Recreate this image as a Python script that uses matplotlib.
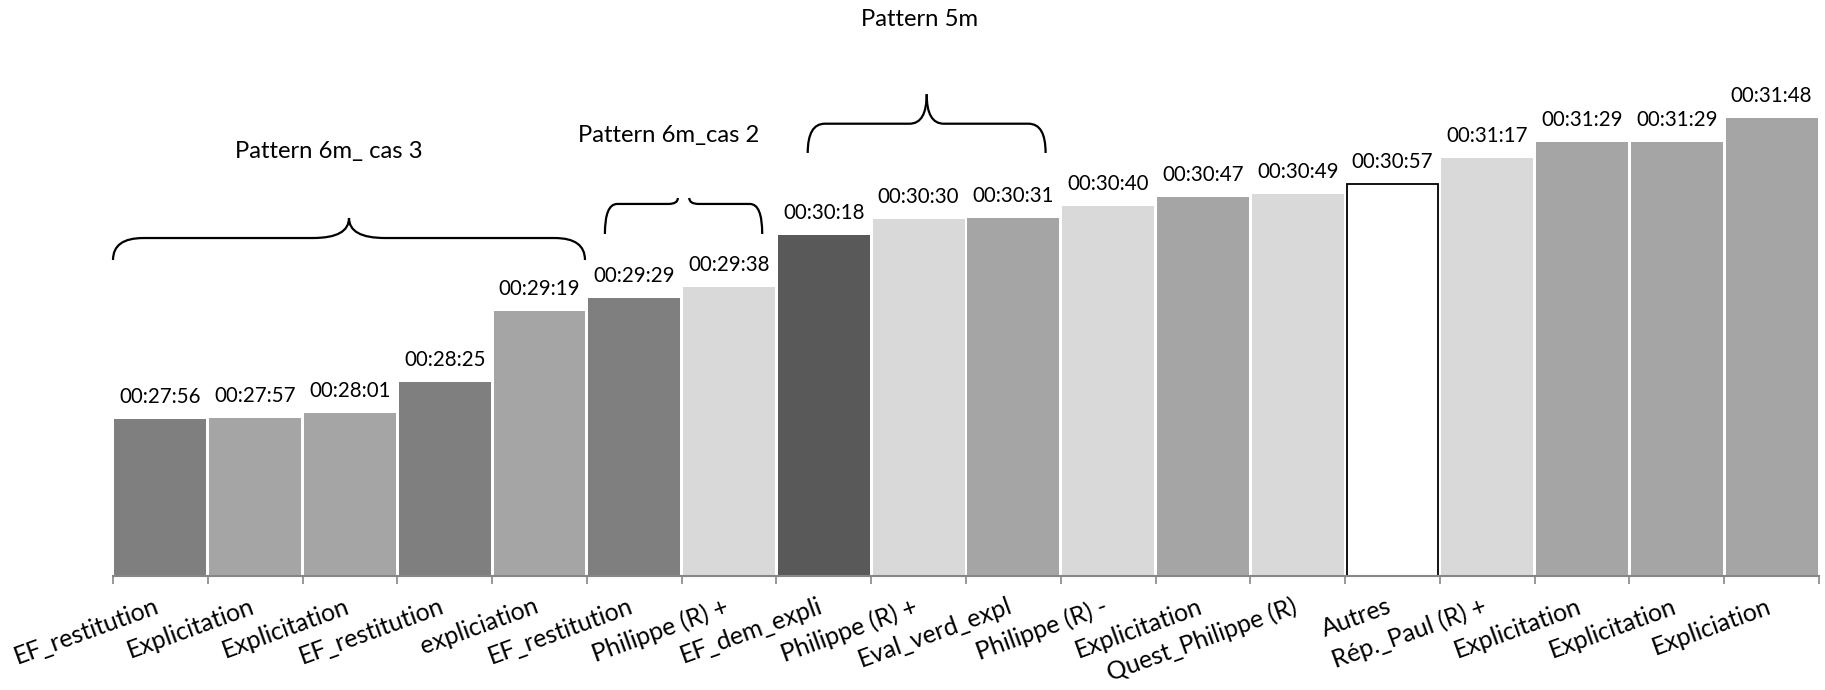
import matplotlib
matplotlib.use("Agg")
import matplotlib.pyplot as plt
from matplotlib.path import Path
from matplotlib.patches import PathPatch
import numpy as np

plt.rcParams['font.family'] = ['Lato', 'DejaVu Sans']

#-------------------------------------------------------------------------------
# Data

labels = ["EF_restitution", "Explicitation", "Explicitation", "EF_restitution",
          "expliciation", "EF_restitution", "Philippe (R) +", "EF_dem_expli",
          "Philippe (R) +", "Eval_verd_expl", "Philippe (R) -", "Explicitation",
          "Quest_Philippe (R)", "Autres", "Rép._Paul (R) +", "Explicitation",
          "Explicitation", "Expliciation"]

times = ["00:27:56", "00:27:57", "00:28:01", "00:28:25", "00:29:19", "00:29:29",
         "00:29:38", "00:30:18", "00:30:30", "00:30:31", "00:30:40", "00:30:47",
         "00:30:49", "00:30:57", "00:31:17", "00:31:29", "00:31:29", "00:31:48"]

bar_colors = ["#7f7f7f", "#a5a5a5", "#a5a5a5", "#7f7f7f", "#a5a5a5", "#7f7f7f",
              "#d9d9d9", "#595959", "#d9d9d9", "#a5a5a5", "#d9d9d9", "#a5a5a5",
              "#d9d9d9", "#ffffff", "#d9d9d9", "#a5a5a5", "#a5a5a5", "#a5a5a5"]

# pattern braces (data coordinates: bar index / seconds)
patterns = ["Pattern 6m_ cas 3", "Pattern 6m_cas 2", "Pattern 5m"]
brace_x = [(-0.5, 4.48), (4.69, 6.35), (6.83, 9.34)]
brace_y = [(1798.5, 1815.4, 1830.8), (1818.5, 1841.6, 1846.2), (1880.8, 1903.3, 1926.0)]
text_pos = [(1.78, 1882.3), (5.365, 1893.9), (8.01, 1983.2)]

#-------------------------------------------------------------------------------

def to_seconds(t):
  h, m, s = [int(v) for v in t.split(":")]
  return h*3600 + m*60 + s

def draw_brace(ax, x0, x1, y_tip, y_line, y_cusp, rx, cx, gap=0.0):
  """ Curly brace opening downward, drawn in data coordinates.
  """
  xc = 0.5*(x0 + x1)
  for side in (-1, 1):
    xe = x0 if side < 0 else x1
    xm = xc + side*gap
    verts = [(xe, y_tip), (xe, y_line), (xe - side*rx, y_line),
             (xm + side*cx, y_line),
             (xm, y_line), (xm, y_cusp)]
    codes = [Path.MOVETO, Path.CURVE3, Path.CURVE3, Path.LINETO,
             Path.CURVE3, Path.CURVE3]
    patch = PathPatch(Path(verts, codes), fill=False, lw=1.6, ec="black",
                      clip_on=False, capstyle="butt")
    ax.add_patch(patch)

#-------------------------------------------------------------------------------

secs = np.array([to_seconds(t) for t in times])
x = np.arange(len(labels))

fig = plt.figure(figsize=(18.25, 6.9), dpi=100)
ax = fig.add_axes([113/1825, (690-576.4)/690, 1706/1825, (576.4-14.6)/690])

ymin = 0.018*86400
ymax = 0.023*86400

edge = ["black" if c == "#ffffff" else "none" for c in bar_colors]
ax.bar(x, secs - ymin, bottom=ymin, width=0.97, color=bar_colors,
       edgecolor=edge, linewidth=1.3)

for xi, s, t in zip(x, secs, times):
  ax.annotate(t, (xi, s), xytext=(0, 12), textcoords="offset pixels",
              ha="center", va="bottom", fontsize=14.8)

ax.set_xlim(-0.5, len(labels) - 0.5)
ax.set_ylim(ymin, ymax)

for sp in ["top", "left", "right"]:
  ax.spines[sp].set_visible(False)
ax.spines["bottom"].set_color("#868686")
ax.spines["bottom"].set_linewidth(1.5)
ax.set_yticks([])

ax.set_xticks(np.arange(-0.5, len(labels)))
ax.set_xticklabels([])
ax.tick_params(axis="x", which="major", direction="out", length=5.5,
               width=1.2, color="#868686")

# rotated category labels, right end under the bar centre
for xi, lab in zip(x, labels):
  ax.annotate(lab, (xi, 0), xycoords=("data", "axes fraction"),
              xytext=(-6, -18), textcoords="offset pixels",
              rotation=20, rotation_mode="anchor", ha="right", va="top",
              fontsize=17.8, annotation_clip=False)

# braces and pattern names
rx_list = [0.32, 0.13, 0.18]
cx_list = [0.38, 0.10, 0.18]
gaps = [0.0, 0.06, 0.0]
for i in range(len(patterns)):
  draw_brace(ax, brace_x[i][0], brace_x[i][1], brace_y[i][0], brace_y[i][1],
             brace_y[i][2], rx_list[i], cx_list[i], gaps[i])
  ax.text(text_pos[i][0], text_pos[i][1], patterns[i], ha="center",
          va="center", fontsize=17.2, clip_on=False)

fig.savefig("out.png", dpi=100)
